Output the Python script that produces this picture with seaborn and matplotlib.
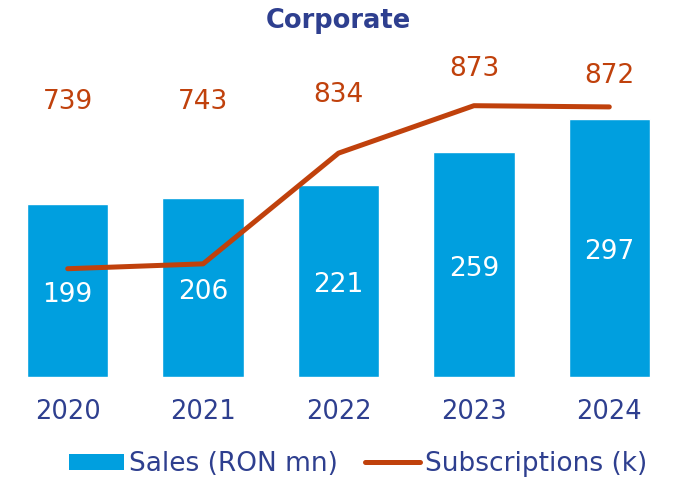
import numpy as np
import pandas as pd
import matplotlib
matplotlib.use("Agg")
import matplotlib.pyplot as plt
import seaborn as sns
from matplotlib.patches import Patch
from matplotlib.lines import Line2D

years = ["2020", "2021", "2022", "2023", "2024"]
sales = [199, 206, 221, 259, 297]
subscriptions = [739, 743, 834, 873, 872]
title = "Corporate"
sales_label = "Sales (RON mn)"
subs_label = "Subscriptions (k)"

# layout: heights (secondary axis units) where the subscription labels sit
subs_label_y = [876, 876, 882, 903, 897]

BLUE = "#009FDF"
ORANGE = "#C0410C"
NAVY = "#2E3F8F"

sns.set_theme(style="white")
plt.rcParams["font.family"] = ["DejaVu Sans"]

fig = plt.figure(figsize=(6.77, 4.8), dpi=100)
ax = fig.add_axes([0.0, 1 - 377 / 480, 1.0, (377 - 40) / 480])

df = pd.DataFrame({"year": years, "sales": sales, "subs": subscriptions})
sns.barplot(data=df, x="year", y="sales", color=BLUE, saturation=1, width=0.6, ax=ax)
ax.set_xlim(-0.5, len(years) - 0.5)
ax.set_ylim(0, 388)
for c in ax.containers:
    ax.bar_label(c, label_type="center", color="white", fontsize=19, padding=-3)

ax2 = ax.twinx()
sns.lineplot(x=np.arange(len(years)), y=df["subs"], color=ORANGE, lw=3.6,
             ax=ax2, solid_capstyle="round")
ax2.set_ylim(650, 927)
for i, (v, ly) in enumerate(zip(subscriptions, subs_label_y)):
    ax2.text(i, ly, f"{v}", ha="center", va="center", color=ORANGE, fontsize=19)

for a in (ax, ax2):
    for s in a.spines.values():
        s.set_visible(False)
    a.set_yticks([])
    a.set_ylabel("")
ax.set_xlabel("")
ax.tick_params(axis="x", length=0, pad=16, labelsize=18.5, labelcolor=NAVY)

fig.text(0.5, 1 - 21 / 480, title, ha="center", va="center", fontsize=18.5,
         fontweight="bold", color=NAVY)

handles = [Patch(facecolor=BLUE, edgecolor="none"),
           Line2D([0], [0], color=ORANGE, lw=3.6, solid_capstyle="round")]
fig.legend(handles, [sales_label, subs_label], loc="center",
           bbox_to_anchor=(358 / 677, 1 - 464 / 480), ncol=2, frameon=False,
           fontsize=19, labelcolor=NAVY, handlelength=2.1, handleheight=0.55,
           handletextpad=0.2, columnspacing=1.0, borderpad=0, borderaxespad=0)

fig.savefig("out.png", dpi=100)
